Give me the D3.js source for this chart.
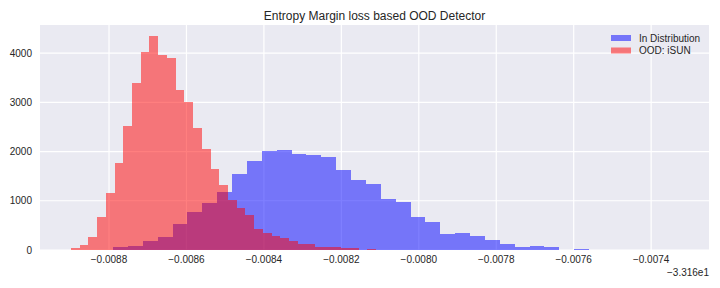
<!DOCTYPE html>
<html>
  <head>
    <title>Entropy Margin loss based OOD Detector</title>
    <script src="https://d3js.org/d3.v7.min.js"></script>
    <style>
      body { margin: 0; background: #ffffff; }
      text { font-family: "Liberation Sans", Arial, sans-serif; fill: #262626; }
    </style>
  </head>
  <body>
    <div id="chart"></div>

    <script>
      // histogram counts (x values are relative to the -33.16 offset)
      const inDistStart = -0.00878967;   // left edge of first in-distribution bin
      const inDistWidth = 0.000038412;   // bin width
      const inDistCounts = [60, 80, 180, 265, 530, 770, 950, 1180, 1545, 1810, 2010, 2030,
        1950, 1930, 1890, 1625, 1420, 1340, 1035, 975, 670, 575, 325, 345, 285, 205, 120,
        60, 80, 60, 0, 30];

      const oodStart = -0.00889813;
      const oodWidth = 0.000022518;
      const oodCounts = [40, 100, 265, 670, 1160, 1770, 2520, 3390, 4020, 4350, 3970, 3900,
        3250, 3010, 2480, 2050, 1650, 1320, 1015, 850, 710, 425, 345, 285, 245, 180, 120,
        120, 60, 60, 60, 40, 40, 10, 30];

      const xTicks = [-0.0088, -0.0086, -0.0084, -0.0082, -0.008, -0.0078, -0.0076, -0.0074];
      const yTicks = [0, 1000, 2000, 3000, 4000];
      const legendLabels = ["In Distribution", "OOD: iSUN"];

      const W = 720, H = 288;
      const margin = { top: 25, right: 11, bottom: 38, left: 40 };

      const svg = d3.select("#chart").append("svg")
        .attr("width", W).attr("height", H);

      const x = d3.scaleLinear()
        .domain([-0.0089782, -0.0072506])
        .range([margin.left, W - margin.right]);
      const y = d3.scaleLinear()
        .domain([0, 4570])
        .range([H - margin.bottom, margin.top]);

      // plot background
      svg.append("rect")
        .attr("x", margin.left).attr("y", margin.top)
        .attr("width", W - margin.left - margin.right)
        .attr("height", H - margin.top - margin.bottom)
        .attr("fill", "#eaeaf2");

      // grid
      svg.append("g").selectAll("line").data(xTicks).join("line")
        .attr("x1", d => x(d)).attr("x2", d => x(d))
        .attr("y1", margin.top).attr("y2", H - margin.bottom)
        .attr("stroke", "#fff").attr("stroke-width", 1.2);
      svg.append("g").selectAll("line").data(yTicks).join("line")
        .attr("x1", margin.left).attr("x2", W - margin.right)
        .attr("y1", d => y(d)).attr("y2", d => y(d))
        .attr("stroke", "#fff").attr("stroke-width", 1.2);

      function drawHist(counts, start, width, color) {
        const bins = counts.map((c, i) => ({ x0: start + i * width, x1: start + (i + 1) * width, c }));
        svg.append("g").selectAll("rect").data(bins.filter(b => b.c > 0)).join("rect")
          .attr("x", d => x(d.x0))
          .attr("width", d => x(d.x1) - x(d.x0))
          .attr("y", d => y(d.c))
          .attr("height", d => y(0) - y(d.c))
          .attr("fill", color)
          .attr("fill-opacity", 0.5)
          .attr("shape-rendering", "crispEdges");
      }
      drawHist(inDistCounts, inDistStart, inDistWidth, "blue");
      drawHist(oodCounts, oodStart, oodWidth, "red");

      // tick labels
      svg.append("g").selectAll("text").data(xTicks).join("text")
        .attr("x", d => x(d)).attr("y", 263)
        .attr("text-anchor", "middle")
        .attr("font-size", 10)
        .text(d => "\u2212" + Math.abs(d).toFixed(4));
      svg.append("g").selectAll("text").data(yTicks).join("text")
        .attr("x", margin.left - 8).attr("y", d => y(d))
        .attr("dy", "0.35em")
        .attr("text-anchor", "end")
        .attr("font-size", 10)
        .text(d => d);

      // offset text
      svg.append("text")
        .attr("x", W - margin.right).attr("y", 276)
        .attr("text-anchor", "end")
        .attr("font-size", 10)
        .text("\u22123.316e1");

      // title
      svg.append("text")
        .attr("x", (margin.left + W - margin.right) / 2).attr("y", 20)
        .attr("text-anchor", "middle")
        .attr("font-size", 12)
        .text("Entropy Margin loss based OOD Detector");

      // legend
      const legendColors = ["blue", "red"];
      const lg = svg.append("g").selectAll("g").data(legendLabels).join("g")
        .attr("transform", (d, i) => `translate(611, ${38 + i * 12.5})`);
      lg.append("rect")
        .attr("x", 0).attr("y", -3).attr("width", 20).attr("height", 6)
        .attr("fill", (d, i) => legendColors[i]).attr("fill-opacity", 0.5);
      lg.append("text")
        .attr("x", 28).attr("dy", "0.35em")
        .attr("font-size", 10)
        .text(d => d);
    </script>
  </body>
</html>
